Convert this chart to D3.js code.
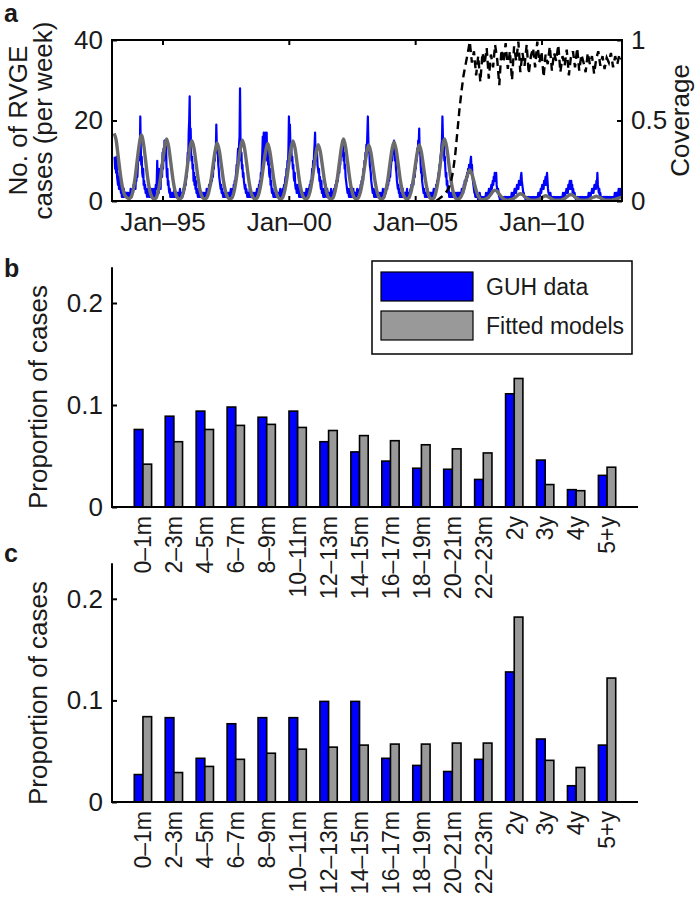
<!DOCTYPE html>
<html><head><meta charset="utf-8">
<script src="https://cdn.jsdelivr.net/npm/d3@7"></script>
<style>
body{margin:0;background:#fff}
text{font-family:"Liberation Sans",Arial,Helvetica,sans-serif;fill:#1a1a1a}
</style>
</head><body>
<svg id="chart" width="700" height="906"></svg>
<script>
// ---------- DATA ----------
// Panel a: weekly RVGE cases (GUH), first week starting 1993-02-08
const casesWeekly = [
 11,8,10,7,11,6,5,4,6,3,7,4,3,2,3,1,2,2,1,3,2,1,2,1,2,1,
 2,1,2,1,0,2,1,3,2,1,2,3,2,4,3,5,4,3,6,5,7,6,9,11,10,14,12,21,13,9,11,7,6,8,4,5,3,4,2,3,2,1,3,2,2,1,2,3,1,2,2,3,
 1,2,1,3,2,1,2,4,3,5,10,4,3,2,8,5,6,3,7,9,6,12,8,13,10,15,11,14,15,9,6,8,4,5,3,2,3,1,2,2,1,2,1,2,1,3,2,1,2,1,2,1,
 2,1,2,1,2,3,1,2,1,2,1,2,3,2,4,3,5,4,7,6,9,12,10,17,20,26,14,18,12,10,11,8,9,5,7,4,6,3,5,2,3,2,1,2,3,1,2,1,2,1,1,2,
 1,2,1,2,1,1,2,1,3,2,2,3,2,4,3,4,5,4,6,5,7,6,9,8,11,10,13,12,19,14,12,13,9,8,6,5,4,3,4,2,3,2,1,2,1,2,1,2,1,2,2,1,
 1,2,1,2,1,2,3,1,2,2,3,2,4,3,5,4,6,7,9,8,11,13,10,14,16,28,15,10,12,8,9,6,7,5,4,3,4,2,3,2,1,2,1,2,1,3,1,2,1,2,1,2,2,
 1,2,1,1,2,1,2,3,2,3,2,4,3,5,4,7,6,9,12,16,13,17,11,15,17,14,12,17,10,13,9,11,7,6,8,4,5,3,2,3,2,1,2,1,2,1,3,2,1,2,1,2,
 2,1,2,3,1,2,1,2,3,2,3,4,3,5,6,5,8,7,10,9,13,21,15,19,14,12,13,10,11,8,9,6,5,7,4,3,4,2,3,4,2,3,1,2,1,2,3,1,2,1,2,1,
 1,2,1,2,1,3,2,1,2,3,2,3,4,3,5,4,6,8,7,10,9,12,14,17,11,13,10,12,9,8,7,8,5,6,4,3,5,2,3,2,1,3,2,1,2,4,2,1,3,2,1,2,
 2,1,2,1,3,2,1,2,1,2,3,2,3,4,3,5,4,6,5,7,8,7,10,9,12,11,13,12,15,14,10,12,8,9,6,5,4,3,2,3,2,1,2,3,1,2,1,2,1,2,3,1,
 1,2,1,2,1,2,3,2,1,2,2,3,2,4,3,5,4,6,5,8,7,10,9,12,11,14,13,17,21,15,12,13,9,8,7,5,4,3,2,3,2,1,2,1,3,1,2,1,2,1,2,1,1,
 2,1,2,1,2,1,3,1,2,1,2,3,2,3,4,3,5,4,6,5,7,6,8,9,11,10,12,13,12,15,13,10,11,8,7,5,4,3,4,2,3,1,2,1,2,1,2,3,1,2,1,2,
 1,2,1,2,3,1,2,1,2,1,2,3,2,4,3,4,5,4,6,7,6,9,8,11,10,13,12,15,14,18,12,13,9,7,8,5,4,3,2,3,2,1,2,1,2,1,3,1,2,1,2,1,
 2,1,2,1,2,1,2,3,1,2,3,2,4,3,5,4,6,7,6,9,8,11,12,14,15,21,16,13,14,10,11,8,6,7,4,5,3,2,3,1,2,1,2,1,1,2,1,2,1,1,2,1,
 1,2,1,1,2,1,2,1,2,1,2,1,2,3,2,3,2,4,3,5,4,5,6,5,7,6,8,7,9,8,7,10,11,8,9,6,5,4,3,2,2,1,2,1,1,2,1,0,1,1,2,1,
 1,0,1,0,1,1,0,1,1,0,1,2,1,1,2,1,2,3,2,3,2,3,4,3,4,5,4,6,5,7,6,5,7,4,3,2,3,2,1,1,0,1,1,0,1,0,1,1,0,1,0,1,
 0,1,0,1,1,0,1,0,1,1,0,1,2,1,1,2,1,2,3,2,3,2,3,4,3,4,3,5,4,5,4,6,7,5,4,3,2,2,1,1,1,0,1,0,1,1,0,1,0,1,1,0,1,
 1,0,1,1,0,1,0,1,1,0,1,1,0,1,2,1,2,1,2,3,2,3,4,3,4,3,5,4,5,6,4,5,7,5,3,2,2,1,1,2,1,0,1,1,0,1,0,1,0,1,1,0,
 0,1,0,1,1,0,1,1,0,1,0,1,1,2,1,1,2,1,2,2,3,2,3,2,4,3,4,5,3,4,5,3,4,2,3,2,1,2,1,1,0,1,1,0,1,0,1,1,0,1,0,1,
 1,0,1,0,1,1,0,1,0,1,1,0,1,1,2,1,1,2,1,2,2,3,2,3,2,3,4,3,4,3,5,4,7,4,3,2,3,1,2,1,1,0,1,1,0,1,0,1,0,1,0,1,
 0,1,0,1,1,0,1,0,1,1,0,1,1,0,1,1,2,1,1,2,1,2,1,2,3,2,1,3,2,1,2
];
// Panel a: fitted model, monthly (1st of month), starting 1993-02-01
const fittedMonthly = [
 16.8,15.2,11.0,6.8,3.4,1.6,0.9,
 0.6,0.9,2.6,5.7,10.2,14.3,16.4,14.3,10.2,5.7,2.6,1.0,
 0.5,0.8,2.5,5.4,9.5,13.4,15.4,13.4,9.5,5.4,2.5,0.9,
 0.5,0.8,2.4,5.3,9.3,13.1,15.0,13.1,9.3,5.3,2.4,0.9,
 0.5,0.8,2.3,5.0,8.9,12.5,14.4,12.5,8.9,5.0,2.3,0.9,
 0.5,0.8,2.4,5.3,9.4,13.1,15.1,13.1,9.4,5.3,2.4,0.9,
 0.5,0.8,2.3,5.0,8.9,12.4,14.3,12.4,8.9,5.0,2.3,0.9,
 0.5,0.8,2.4,5.2,9.2,13.0,14.9,13.0,9.2,5.2,2.4,0.9,
 0.5,0.8,2.2,4.9,8.7,12.2,14.0,12.2,8.7,4.9,2.2,0.8,
 0.5,0.8,2.5,5.4,9.5,13.4,15.4,13.4,9.5,5.4,2.5,0.9,
 0.5,0.8,2.2,4.9,8.6,12.1,13.9,12.1,8.6,4.9,2.2,0.8,
 0.5,0.8,2.4,5.1,9.1,12.8,14.7,12.8,9.1,5.1,2.4,0.9,
 0.5,0.8,2.2,4.9,8.6,12.1,13.9,12.1,8.6,4.9,2.2,0.8,
 0.5,0.8,2.5,5.4,9.5,13.4,15.4,13.4,9.5,5.4,2.5,0.9,
 0.4,0.6,1.3,2.7,4.8,6.7,7.7,6.7,4.8,2.7,1.3,0.5,
 0.3,0.4,0.6,1.0,1.7,2.4,2.7,2.4,1.7,1.0,0.5,0.3,
 0.2,0.3,0.4,0.7,1.1,1.6,1.8,1.6,1.1,0.7,0.4,0.2,
 0.2,0.2,0.3,0.5,0.8,1.1,1.3,1.1,0.8,0.5,0.3,0.2,
 0.2,0.2,0.4,0.6,1.0,1.4,1.6,1.4,1.0,0.6,0.3,0.2,
 0.2,0.2,0.3,0.5,0.8,1.0,1.2,1.0,0.8,0.5,0.3,0.2,
 0.2,0.2,0.3,0.4,0.6,0.8,0.9
];
// Panel a: vaccine coverage, monthly, starting 2005-11-01
const coverageMonthly = [
 0.00,0.01,0.02,0.03,0.04,0.06,0.08,0.12,0.18,0.28,0.42,0.56,0.68,0.78,0.85,0.92,0.99,
 0.86,0.93,0.78,0.90,0.74,0.92,0.85,0.95,0.76,0.91,0.83,0.97,0.88,0.72,0.94,0.86,0.98,
 0.82,0.93,0.75,0.96,0.87,0.99,0.80,0.92,0.84,0.97,0.79,0.90,0.95,0.83,0.99,0.86,0.93,
 0.77,0.91,0.85,0.96,0.81,0.92,0.87,0.97,0.80,0.90,0.84,0.94,0.78,0.89,0.93,0.83,0.95,
 0.81,0.91,0.86,0.80,0.92,0.85,0.90,0.79,0.88,0.93,0.84,0.90,0.82,0.89,0.86,0.92,0.83,
 0.90,0.85,0.91,0.88
];
const aLeftTicks = [0, 20, 40];
const aRightTicks = [0, 0.5, 1];
const aYearTicks = [1995, 2000, 2005, 2010];

// Panels b, c
const ageGroups = ["0–1m","2–3m","4–5m","6–7m","8–9m","10–11m","12–13m","14–15m","16–17m","18–19m","20–21m","22–23m","2y","3y","4y","5+y"];
const guhB = [0.076,0.089,0.094,0.098,0.088,0.094,0.064,0.054,0.045,0.038,0.037,0.027,0.111,0.046,0.017,0.031];
const fitB = [0.042,0.064,0.076,0.080,0.081,0.078,0.075,0.070,0.065,0.061,0.057,0.053,0.126,0.022,0.016,0.039];
const guhC = [0.027,0.083,0.043,0.077,0.083,0.083,0.099,0.099,0.043,0.036,0.030,0.042,0.128,0.062,0.016,0.056];
const fitC = [0.084,0.029,0.035,0.042,0.048,0.052,0.054,0.056,0.057,0.057,0.058,0.058,0.182,0.041,0.034,0.122];
const propTicks = [0, 0.1, 0.2];
const legendLabels = ["GUH data", "Fitted models"];

// ---------- DRAW ----------
const svg = d3.select("#chart");
const BLUE = "#0000ff", GRAYBAR = "#999999", GRAYLINE = "#6b6b6b";

// ===== Panel a =====
const L = 112, R = 622, T = 40, B = 201;
const xA = d3.scaleTime().domain([new Date(1993,0,1), new Date(2013,2,10)]).range([L, R]);
const yA = d3.scaleLinear().domain([0, 40]).range([B, T]);
const yCov = d3.scaleLinear().domain([0, 1]).range([B, T]);

svg.append("clipPath").attr("id","clipA").append("rect")
  .attr("x", L).attr("y", T-2).attr("width", R-L).attr("height", B-T+3);
const gA = svg.append("g");
const plotA = gA.append("g").attr("clip-path","url(#clipA)");

const wk0 = new Date(1993,1,8);
const weekly = casesWeekly.map((v,i)=>({d:d3.timeDay.offset(wk0, 7*i), v}));
const m0 = new Date(1993,1,1);
const fitted = fittedMonthly.map((v,i)=>({d:d3.timeMonth.offset(m0, i), v}));
const c0 = new Date(2005,10,1);
const cover = coverageMonthly.map((v,i)=>({d:d3.timeMonth.offset(c0, i), v}));

plotA.append("path").datum(weekly)
  .attr("d", d3.line().x(d=>xA(d.d)).y(d=>yA(d.v)))
  .attr("fill","none").attr("stroke",BLUE).attr("stroke-width",2.2).attr("stroke-linejoin","round");
plotA.append("path").datum(fitted)
  .attr("d", d3.line().curve(d3.curveMonotoneX).x(d=>xA(d.d)).y(d=>yA(d.v)))
  .attr("fill","none").attr("stroke",GRAYLINE).attr("stroke-width",3.4);
plotA.append("path").datum(cover)
  .attr("d", d3.line().x(d=>xA(d.d)).y(d=>yCov(d.v)))
  .attr("fill","none").attr("stroke","#000").attr("stroke-width",2.4)
  .attr("stroke-dasharray","8,5");

function styleAxis(g, fs){
  g.select(".domain").remove();
  g.selectAll(".tick line").attr("stroke","#000").attr("stroke-width",2);
  g.selectAll(".tick text").attr("font-size",fs).attr("fill","#1a1a1a")
    .attr("font-family","'Liberation Sans',Arial,sans-serif");
}
gA.append("g").attr("transform",`translate(${L},0)`)
  .call(d3.axisLeft(yA).tickValues(aLeftTicks).tickSize(-5).tickPadding(9))
  .call(g=>styleAxis(g,26));
gA.append("g").attr("transform",`translate(${R},0)`)
  .call(d3.axisRight(yCov).tickValues(aRightTicks).tickSize(-5).tickPadding(9).tickFormat(d=>d===0.5?"0.5":String(d)))
  .call(g=>styleAxis(g,26));
const yearDates = aYearTicks.map(y=>new Date(y,0,1));
gA.append("g").attr("transform",`translate(0,${B})`)
  .call(d3.axisBottom(xA).tickValues(yearDates).tickSize(-5).tickPadding(12)
    .tickFormat(d=>"Jan–"+String(d.getFullYear()).slice(2)))
  .call(g=>styleAxis(g,26));
gA.append("g").attr("transform",`translate(0,${T})`)
  .call(d3.axisTop(xA).tickValues(yearDates).tickSize(-5).tickFormat(""))
  .call(g=>styleAxis(g,26));
gA.append("rect").attr("x",L).attr("y",T).attr("width",R-L).attr("height",B-T)
  .attr("fill","none").attr("stroke","#000").attr("stroke-width",2);

gA.append("text").attr("transform",`translate(27,${(T+B)/2}) rotate(-90)`)
  .attr("text-anchor","middle").attr("font-size",26).text("No. of RVGE");
gA.append("text").attr("transform",`translate(52,${(T+B)/2}) rotate(-90)`)
  .attr("text-anchor","middle").attr("font-size",26).text("cases (per week)");
gA.append("text").attr("transform",`translate(689,${(T+B)/2}) rotate(-90)`)
  .attr("text-anchor","middle").attr("font-size",26).text("Coverage");
svg.append("text").attr("x",4).attr("y",22).attr("font-size",25).attr("font-weight","bold").text("a");

// ===== Panels b, c =====
function barPanel(y0, pxPerTenth, guh, fit, letter, letterY, labelCenter){
  const g = svg.append("g");
  const xB = d3.scaleLinear().domain([0, 17]).range([L, 638]);
  const top = 0.235;
  const yB = d3.scaleLinear().domain([0, top]).range([y0, y0 - top*pxPerTenth*10]);
  const bw = xB(0.28) - xB(0);
  ageGroups.forEach((c,i)=>{
    const cx = xB(i+1);
    g.append("rect").attr("x",cx-bw).attr("y",yB(guh[i])).attr("width",bw).attr("height",y0-yB(guh[i]))
      .attr("fill",BLUE).attr("stroke","#000").attr("stroke-width",1.6);
    g.append("rect").attr("x",cx).attr("y",yB(fit[i])).attr("width",bw).attr("height",y0-yB(fit[i]))
      .attr("fill",GRAYBAR).attr("stroke","#000").attr("stroke-width",1.6);
    g.append("text").attr("transform",`translate(${cx},${y0+9}) rotate(-90)`)
      .attr("text-anchor","end").attr("dy","0.36em").attr("font-size",23).text(c);
  });
  g.append("g").attr("transform",`translate(${L},0)`)
    .call(d3.axisLeft(yB).tickValues(propTicks).tickSize(-5).tickPadding(9)
      .tickFormat(d=>d===0?"0":d3.format(".1f")(d)))
    .call(a=>styleAxis(a,26));
  g.append("line").attr("x1",L).attr("x2",L).attr("y1",yB(top)).attr("y2",y0+1)
    .attr("stroke","#000").attr("stroke-width",2);
  g.append("line").attr("x1",L-1).attr("x2",638).attr("y1",y0).attr("y2",y0)
    .attr("stroke","#000").attr("stroke-width",2);
  g.append("text").attr("transform",`translate(47,${labelCenter}) rotate(-90)`)
    .attr("text-anchor","middle").attr("font-size",26).text("Proportion of cases");
  svg.append("text").attr("x",4).attr("y",letterY).attr("font-size",25).attr("font-weight","bold").text(letter);
  return g;
}
barPanel(507, 102, guhB, fitB, "b", 277, 397);
barPanel(802, 101.6, guhC, fitC, "c", 562, 693);

// Legend (panel b)
const lg = svg.append("g");
lg.append("rect").attr("x",372).attr("y",261).attr("width",260).attr("height",93)
  .attr("fill","#fff").attr("stroke","#000").attr("stroke-width",1.5);
[BLUE, GRAYBAR].forEach((col,i)=>{
  lg.append("rect").attr("x",381).attr("y",272+i*39).attr("width",92).attr("height",29)
    .attr("fill",col).attr("stroke","#000").attr("stroke-width",1.2);
  lg.append("text").attr("x",486).attr("y",295+i*39).attr("font-size",23).text(legendLabels[i]);
});
</script>
</body></html>
